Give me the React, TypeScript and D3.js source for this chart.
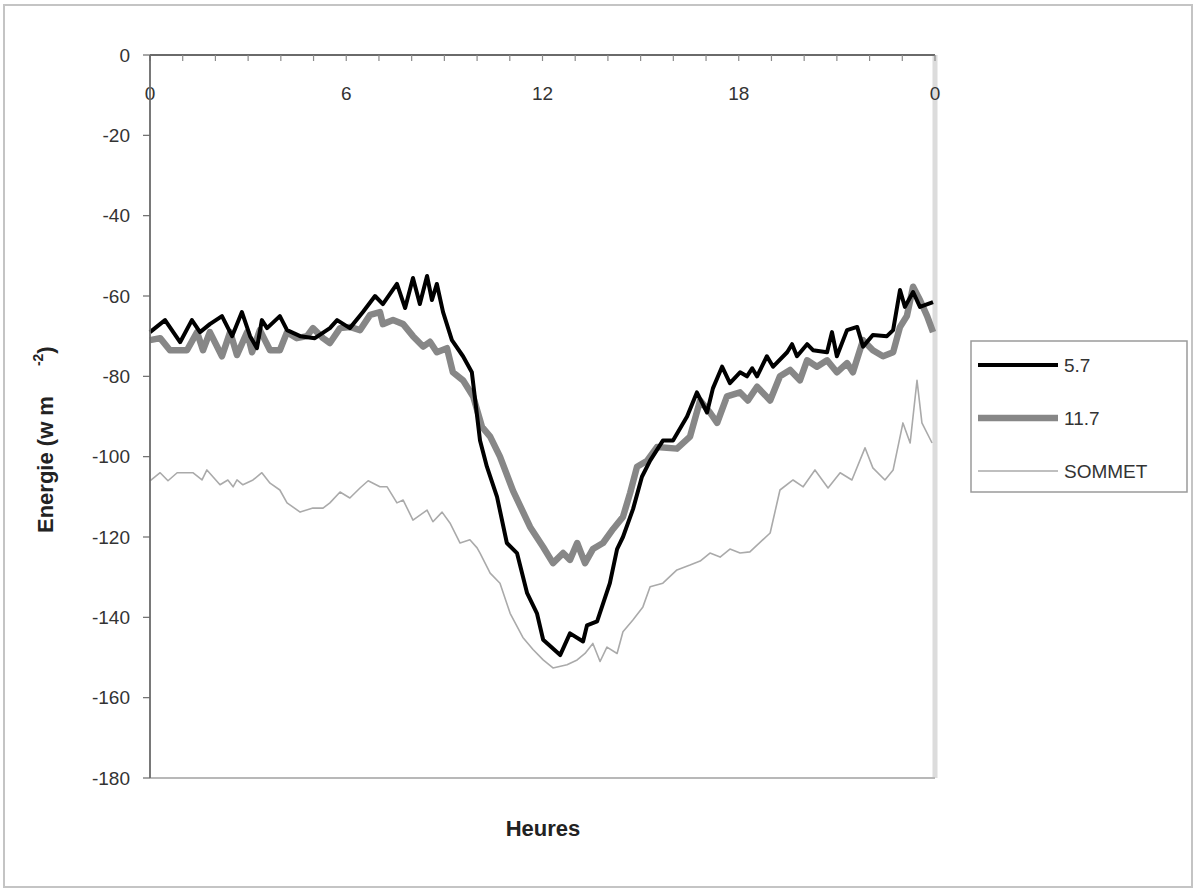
import React from "react";
import * as d3 from "d3";

// ---- data (hours, W m-2) ----
const hours57 = [0.0,0.46,0.92,1.28,1.53,1.83,2.2,2.51,2.81,3.06,3.27,3.42,3.58,3.97,4.19,4.59,5.04,5.5,5.72,6.11,6.51,6.88,7.12,7.55,7.8,8.04,8.25,8.47,8.62,8.77,8.96,9.23,9.57,9.84,10.09,10.3,10.61,10.91,11.22,11.53,11.83,12.02,12.54,12.84,13.24,13.36,13.67,14.06,14.28,14.46,14.77,15.04,15.29,15.68,15.99,16.42,16.72,17.03,17.21,17.49,17.73,18.04,18.25,18.41,18.56,18.86,19.05,19.48,19.63,19.78,20.09,20.27,20.7,20.85,21.0,21.31,21.62,21.8,22.1,22.53,22.72,22.93,23.08,23.33,23.54,23.94];
const energy57 = [-69,-66,-71.5,-66,-69,-67,-65,-70,-64,-70,-73,-66,-68,-65,-68.5,-70,-70.5,-68,-66,-68,-64,-60,-62,-57,-63,-55.5,-62,-55,-61,-57,-64,-71,-75,-79,-96,-102.5,-110,-121.5,-124,-134,-139,-145.6,-149.4,-144,-146,-142,-141,-131.5,-123,-120,-113,-105,-101,-96,-96,-90,-84,-89,-83,-77.6,-81.7,-79,-80,-78,-80,-75,-77.6,-74,-72,-75,-72,-73.5,-74,-69,-75,-68.5,-67.7,-72.6,-69.7,-70,-68.5,-58.5,-62.7,-59,-62.7,-61.5];

const hours117 = [0.0,0.31,0.61,1.13,1.44,1.62,1.83,2.2,2.45,2.66,2.97,3.12,3.36,3.67,3.97,4.19,4.49,4.8,4.98,5.29,5.5,5.81,6.11,6.42,6.73,7.03,7.12,7.43,7.74,8.04,8.35,8.56,8.77,9.08,9.26,9.57,9.88,10.15,10.4,10.7,11.1,11.62,12.02,12.32,12.63,12.84,13.06,13.3,13.54,13.85,14.16,14.46,14.68,14.89,15.2,15.5,16.11,16.51,16.82,17.12,17.34,17.64,18.04,18.28,18.56,18.96,19.26,19.57,19.87,20.09,20.39,20.7,21.0,21.31,21.49,21.8,22.1,22.41,22.72,22.93,23.14,23.33,23.54,23.76,23.94];
const energy117 = [-71,-70.5,-73.5,-73.5,-69,-73.5,-69,-75,-69,-74.7,-69,-74,-68.5,-73.5,-73.5,-69,-70.5,-70,-68,-70.5,-71.7,-68,-67.7,-68.5,-64.7,-64,-67,-66,-67,-70,-72.6,-71.4,-74,-73,-79,-81,-85,-92.6,-95,-100,-108.5,-117.5,-122.5,-126.5,-124,-125.7,-121.5,-126.5,-123,-121.5,-118,-115,-109,-102.5,-101,-97.6,-98,-95,-86,-89,-91.6,-85,-84,-86,-82.6,-86,-80,-78.4,-81,-76,-77.6,-76,-79,-76.7,-79,-71,-73.5,-75,-74,-67.7,-65,-57.7,-61,-65,-69];

const hoursSommet = [0.0,0.31,0.55,0.83,1.31,1.59,1.74,2.14,2.38,2.54,2.66,2.84,3.15,3.42,3.67,3.97,4.19,4.59,4.98,5.29,5.5,5.81,6.11,6.42,6.67,7.03,7.25,7.55,7.74,8.04,8.47,8.65,8.93,9.17,9.48,9.78,10.0,10.09,10.4,10.7,11.01,11.4,11.71,12.02,12.32,12.75,13.06,13.3,13.54,13.76,13.97,14.28,14.46,14.77,15.07,15.29,15.68,16.11,16.51,16.82,17.12,17.43,17.73,18.04,18.34,18.96,19.26,19.66,19.97,20.33,20.73,21.1,21.46,21.86,22.1,22.47,22.72,23.02,23.24,23.45,23.6,23.91];
const energySommet = [-106,-104,-106,-104,-104,-105.8,-103.3,-107,-105.8,-107.5,-105.8,-107,-105.8,-104,-106.6,-108.3,-111.5,-113.8,-112.8,-112.8,-111.5,-108.8,-110.3,-107.8,-106,-107.5,-107.5,-111.5,-110.8,-115.8,-113.3,-116.2,-113.8,-116.5,-121.5,-120.7,-122.7,-124,-129,-131.5,-139,-145,-148,-150.6,-152.6,-151.8,-150.6,-149,-146.5,-151,-147.4,-149,-143.6,-140.6,-137.4,-132.4,-131.5,-128.2,-127,-126,-124,-125,-123,-124,-123.7,-119,-108.3,-105.8,-107.5,-103.3,-107.8,-104,-105.8,-97.8,-102.8,-105.8,-103.3,-91.6,-96.6,-81,-91.6,-96.6];

const xTickValues = [0, 6, 12, 18, 24];
const xTickLabels = ["0", "6", "12", "18", "0"];
const yTickValues = [0, -20, -40, -60, -80, -100, -120, -140, -160, -180];

const seriesNames = ["5.7", "11.7", "SOMMET"];

const FONT = "'Liberation Sans', Arial, sans-serif";

export default function App() {
  const W = 1200, H = 892;
  const left = 150, right = 935, top = 55, bottom = 778;
  const x = d3.scaleLinear().domain([0, 24]).range([left, right]);
  const y = d3.scaleLinear().domain([0, -180]).range([top, bottom]);

  const mk = (hs: number[], vs: number[]) =>
    d3.line<number>().x((_, i) => x(hs[i])).y((v) => y(v))(vs) || "";

  const series = [
    { name: seriesNames[0], d: mk(hours57, energy57), color: "#000000", w: 4 },
    { name: seriesNames[1], d: mk(hours117, energy117), color: "#878787", w: 6.5 },
    { name: seriesNames[2], d: mk(hoursSommet, energySommet), color: "#aaaaaa", w: 1.6 },
  ];
  const drawOrder = [2, 1, 0];

  const minorTicks = d3.range(0, 25);

  return (
    <svg
      width={W}
      height={H}
      style={{ position: "absolute", left: 0, top: 0, background: "#fff" }}
      fontFamily={FONT}
    >
      <rect x={0} y={0} width={W} height={H} fill="#fff" />
      {/* outer border */}
      <rect x={4} y={5} width={1188} height={882} fill="none" stroke="#c4c4c4" strokeWidth={2} />

      {/* plot frame right & bottom */}
      <line x1={right} y1={top} x2={right} y2={bottom} stroke="#dcdcdc" strokeWidth={5} />
      <line x1={left} y1={bottom} x2={right} y2={bottom} stroke="#b8b8b8" strokeWidth={2} />

      {/* series */}
      {drawOrder.map((i) => (
        <path
          key={series[i].name}
          d={series[i].d}
          fill="none"
          stroke={series[i].color}
          strokeWidth={series[i].w}
          strokeLinejoin="round"
        />
      ))}

      {/* top x axis at value 0 */}
      <line x1={left} y1={top} x2={right} y2={top} stroke="#6a6a6a" strokeWidth={1.8} />
      {minorTicks.map((h) => (
        <line key={h} x1={x(h)} y1={top} x2={x(h)} y2={top + 6} stroke="#8a8a8a" strokeWidth={1.2} />
      ))}
      {xTickValues.map((h, i) => (
        <text key={i} x={x(h)} y={top + 45} textAnchor="middle" fontSize={19} fill="#333">
          {xTickLabels[i]}
        </text>
      ))}

      {/* y axis */}
      <line x1={left} y1={top} x2={left} y2={bottom} stroke="#6a6a6a" strokeWidth={1.8} />
      {yTickValues.map((v) => (
        <g key={v}>
          <line x1={left - 7} y1={y(v)} x2={left} y2={y(v)} stroke="#6a6a6a" strokeWidth={1.2} />
          <text x={left - 20} y={y(v)} dy="0.35em" textAnchor="end" fontSize={19} fill="#333">
            {v}
          </text>
        </g>
      ))}

      {/* axis titles */}
      <text x={543} y={836} textAnchor="middle" fontSize={22} fontWeight="bold" fill="#222">
        Heures
      </text>
      <text
        transform="translate(53,533) rotate(-90)"
        fontSize={22}
        fontWeight="bold"
        fill="#222"
      >
        Energie (w m
        <tspan dx={30} dy={-10} fontSize={14}>-2</tspan>
        <tspan dy={10} fontSize={22}>)</tspan>
      </text>

      {/* legend */}
      <rect x={971} y={341} width={216} height={151} fill="#fff" stroke="#9a9a9a" strokeWidth={1.5} />
      {series.map((s, i) => {
        const ly = 365 + i * 53;
        return (
          <g key={s.name}>
            <line x1={978} y1={ly} x2={1058} y2={ly} stroke={s.color} strokeWidth={s.w} />
            <text x={1064} y={ly} dy="0.35em" fontSize={19} fill="#333">
              {s.name}
            </text>
          </g>
        );
      })}
    </svg>
  );
}
